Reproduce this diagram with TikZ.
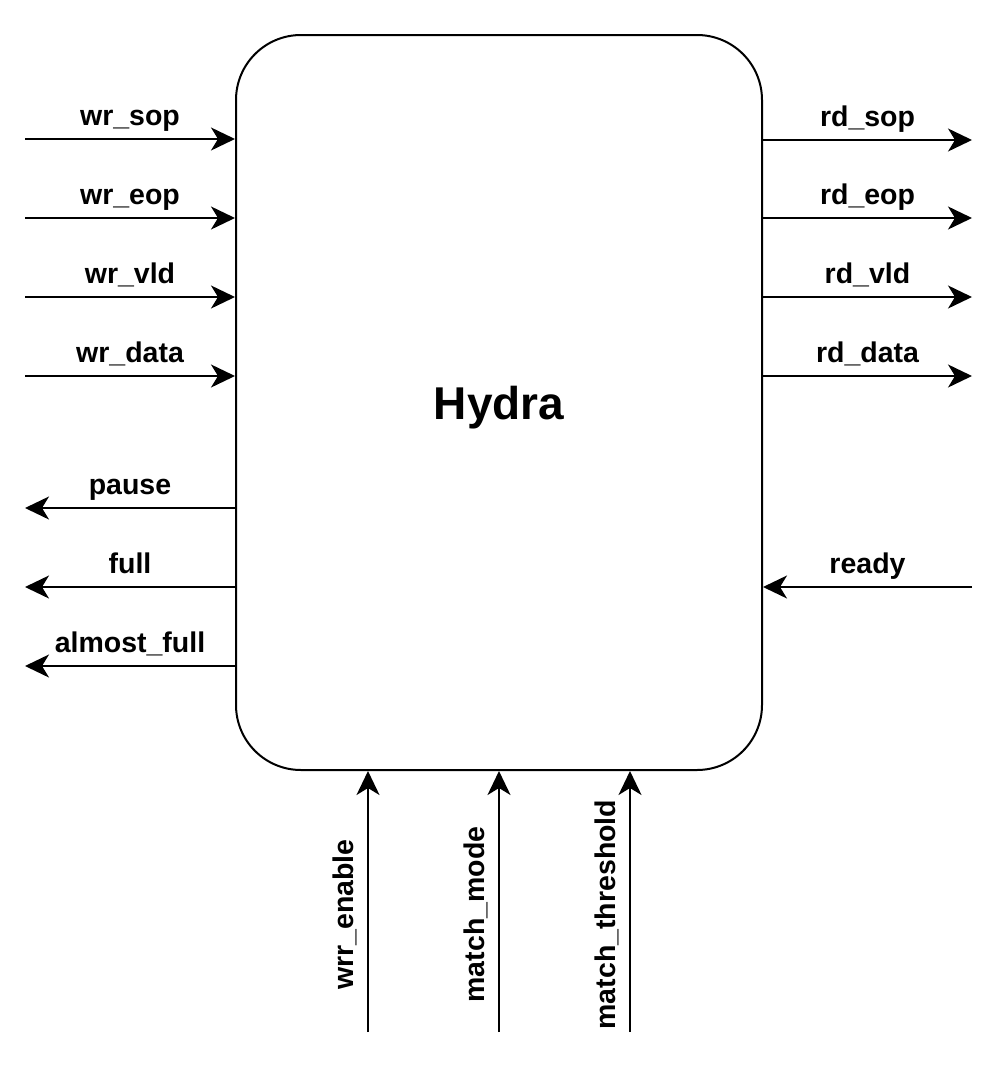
\documentclass[tikz,border=0pt]{standalone}
\usepackage{fontspec}
\setmainfont{Liberation Sans}
\usetikzlibrary{arrows.meta,positioning}

\begin{document}
\begin{tikzpicture}[
    x=1pt, y=-1pt,
    block/.style={draw, line width=2pt, rounded corners=65pt, minimum width=526pt, minimum height=735pt, text height=33pt, text depth=0pt, font=\fontsize{46}{55}\selectfont\bfseries},
    arrow/.style={-{Stealth[length=24pt, width=23pt, inset=7pt]}, line width=2pt},
    sig/.style={font=\fontsize{28.5}{34}\selectfont\bfseries, inner sep=0pt, anchor=base, yshift=13.5pt},
    vsig/.style={font=\fontsize{28.5}{34}\selectfont\bfseries, inner sep=0pt, sloped, anchor=south, pos=0.45}
]
\useasboundingbox (0,0) rectangle (997,1068);

\node[block] (hydra) at (499,402.5) {Hydra};

% write side
\coordinate (wrsop) at (25,139);
\coordinate (wreop) at (25,218);
\coordinate (wrvld) at (25,297);
\coordinate (wrdata) at (25,376);
\coordinate (pause) at (25,508);
\coordinate (full) at (25,587);
\coordinate (afull) at (25,666);

\draw[arrow] (wrsop) -- node[sig] {wr\_sop} (wrsop -| hydra.west);
\draw[arrow] (wreop) -- node[sig] {wr\_eop} (wreop -| hydra.west);
\draw[arrow] (wrvld) -- node[sig] {wr\_vld} (wrvld -| hydra.west);
\draw[arrow] (wrdata) -- node[sig] {wr\_data} (wrdata -| hydra.west);
\draw[arrow] (pause -| hydra.west) -- node[sig] {pause} (pause);
\draw[arrow] (full -| hydra.west) -- node[sig] {full} (full);
\draw[arrow] (afull -| hydra.west) -- node[sig] {almost\_full} (afull);

% read side
\coordinate (rdsop) at (972,140);
\coordinate (rdeop) at (972,218);
\coordinate (rdvld) at (972,297);
\coordinate (rddata) at (972,376);
\coordinate (ready) at (972,587);

\draw[arrow] (rdsop -| hydra.east) -- node[sig] {rd\_sop} (rdsop);
\draw[arrow] (rdeop -| hydra.east) -- node[sig] {rd\_eop} (rdeop);
\draw[arrow] (rdvld -| hydra.east) -- node[sig] {rd\_vld} (rdvld);
\draw[arrow] (rddata -| hydra.east) -- node[sig] {rd\_data} (rddata);
\draw[arrow] (ready) -- node[sig] {ready} (ready -| hydra.east);

% config
\coordinate (wrren) at (368,1032);
\coordinate (mmode) at (499,1032);
\coordinate (mthr) at (630,1032);

\draw[arrow] (wrren) -- node[vsig, above=10pt] {wrr\_enable} (wrren |- hydra.south);
\draw[arrow] (mmode) -- node[vsig, above=10pt] {match\_mode} (mmode |- hydra.south);
\draw[arrow] (mthr) -- node[vsig, above=10pt] {match\_threshold} (mthr |- hydra.south);

\end{tikzpicture}
\end{document}
